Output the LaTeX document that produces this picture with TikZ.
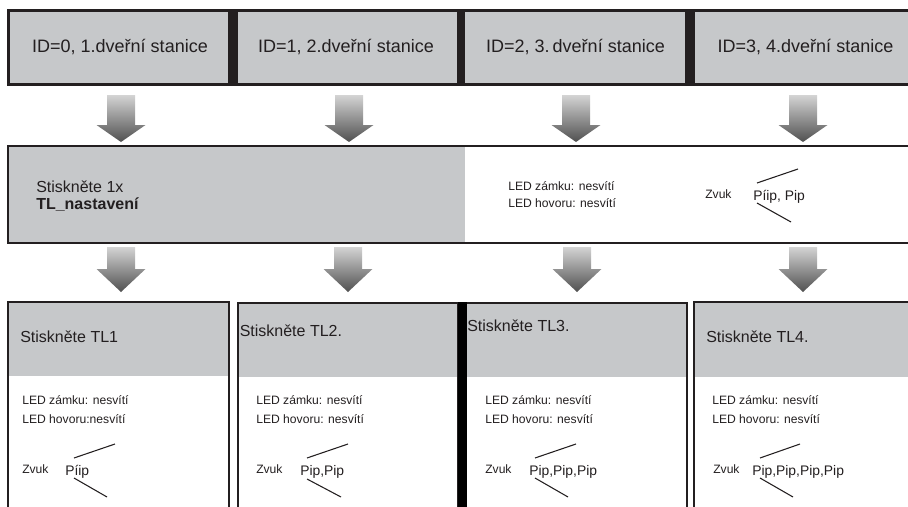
\documentclass[tikz,border=0pt]{standalone}
\usepackage{fontspec}
\setmainfont{Liberation Sans}
\definecolor{cellgray}{HTML}{C6C8CA}
\definecolor{ink}{HTML}{231F20}
\definecolor{arrtop}{HTML}{D4D4D4}
\definecolor{arrbot}{HTML}{505050}
\begin{document}
\begin{tikzpicture}[x=0.75pt,y=-0.75pt,
  rectnode/.style={anchor=north west, inner sep=0pt, outer sep=0pt},
  celltxt/.style={text=ink, font=\fontsize{13.5pt}{16pt}\selectfont},
  bigtxt/.style={anchor=base west, inner sep=0pt, text=ink, font=\fontsize{12pt}{14pt}\selectfont},
  smalltxt/.style={anchor=base west, inner sep=0pt, text=ink, font=\fontsize{9.1pt}{11pt}\selectfont},
  piptxt/.style={anchor=base west, inner sep=0pt, text=ink, font=\fontsize{10.4pt}{12pt}\selectfont},
  soundline/.style={draw=ink, line width=0.8pt},
  pics/downarrow/.style 2 args={code={
    \shade[top color=arrtop, bottom color=arrbot]
      (-14,0) -- (14,0) -- (14,#1) -- (24.5,#1) -- (0,#2) -- (-24.5,#1) -- (-14,#1) -- cycle;}}
]
\useasboundingbox (0,0) rectangle (908,507);
\clip (0,0) rectangle (908,507);

% ---------- top row ----------
\node[rectnode, fill=ink, minimum width=905*0.75pt, minimum height=77*0.75pt] (toprow) at (7,9) {};
\node[rectnode, fill=cellgray, minimum width=218.5*0.75pt, minimum height=71.5*0.75pt] (c1) at (9.5,11.5) {};
\node[rectnode, fill=cellgray, minimum width=219*0.75pt, minimum height=71.5*0.75pt] (c2) at (238,11.5) {};
\node[rectnode, fill=cellgray, minimum width=220*0.75pt, minimum height=71.5*0.75pt] (c3) at (465,11.5) {};
\node[rectnode, fill=cellgray, minimum width=217*0.75pt, minimum height=71.5*0.75pt] (c4) at (695,11.5) {};
\node[celltxt] (t1) at (120,47.5) {ID=0, 1.dveřní stanice};
\node[celltxt] (t2) at (346,47.5) {ID=1, 2.dveřní stanice};
\node[celltxt] (t3) at (575.5,47.5) {ID=2, 3.\,dveřní stanice};
\node[celltxt] (t4) at (805.5,47.5) {ID=3, 4.dveřní stanice};

% ---------- arrows row 1 ----------
\pic (a1) at (121,95) {downarrow={30}{47}};
\pic (a2) at (349,95) {downarrow={30}{47}};
\pic (a3) at (576,95) {downarrow={30}{47}};
\pic (a4) at (803,95) {downarrow={30}{47}};

% ---------- middle row ----------
\node[rectnode, fill=white, minimum width=904*0.75pt, minimum height=97*0.75pt] (mid) at (8,146) {};
\node[rectnode, fill=cellgray, minimum width=457*0.75pt, minimum height=97*0.75pt] (midgray) at (8,146) {};
\draw[ink, line width=1.5pt] (8,146) rectangle (915,243);
\node[bigtxt] (m1) at (36,192) {Stiskněte 1x};
\node[bigtxt, font=\fontsize{12pt}{14pt}\selectfont\bfseries] (m2) at (36,209) {TL\_nastavení};
\node[smalltxt] (m3) at (508,190) {LED zámku: nesvítí};
\node[smalltxt] (m4) at (508,207) {LED hovoru: nesvítí};
\node[smalltxt] (m5) at (705,198) {Zvuk};
\node[piptxt] (m6) at (753,200) {Píip, Pip};
\draw[soundline] (757,183) -- (798,169);
\draw[soundline] (757,203) -- (791,222);

% ---------- arrows row 2 ----------
\pic (b1) at (121,247) {downarrow={22}{45}};
\pic (b2) at (348,247) {downarrow={22}{45}};
\pic (b3) at (577,247) {downarrow={22}{45}};
\pic (b4) at (803,247) {downarrow={22}{45}};

% ---------- bottom boxes ----------
\node[rectnode, fill=cellgray, minimum width=221*0.75pt, minimum height=74*0.75pt] (h1) at (8,302) {};
\node[rectnode, fill=cellgray, minimum width=220*0.75pt, minimum height=74*0.75pt] (h2) at (238,303) {};
\node[rectnode, fill=cellgray, minimum width=225*0.75pt, minimum height=74*0.75pt] (h3) at (462,303) {};
\node[rectnode, fill=cellgray, minimum width=221*0.75pt, minimum height=75*0.75pt] (h4) at (694,302) {};
\draw[ink, line width=1.1pt] (8,302) rectangle (229,520);
\draw[ink, line width=1.9pt] (238,303) rectangle (458,520);
\draw[ink, line width=1.7pt] (462,303) rectangle (687,520);
\fill[black] (458,302) rectangle (467,520);
\draw[ink, line width=1.1pt] (694,302) rectangle (915,520);

\node[bigtxt] (s1) at (20,342) {Stiskněte TL1};
\node[bigtxt] (s2) at (239.5,336) {Stiskněte TL2.};
\node[bigtxt] (s3) at (467,331) {Stiskněte TL3.};
\node[bigtxt] (s4) at (706,342) {Stiskněte TL4.};

\node[smalltxt] (l1a) at (22,404) {LED zámku: nesvítí};
\node[smalltxt] (l1b) at (22,423) {LED hovoru:nesvítí};
\node[smalltxt] (l2a) at (256,404) {LED zámku: nesvítí};
\node[smalltxt] (l2b) at (256,423) {LED hovoru: nesvítí};
\node[smalltxt] (l3a) at (485,404) {LED zámku: nesvítí};
\node[smalltxt] (l3b) at (485,423) {LED hovoru: nesvítí};
\node[smalltxt] (l4a) at (712,404) {LED zámku: nesvítí};
\node[smalltxt] (l4b) at (712,423) {LED hovoru: nesvítí};

\node[smalltxt] (z1) at (22,473) {Zvuk};
\node[smalltxt] (z2) at (256,473) {Zvuk};
\node[smalltxt] (z3) at (485,473) {Zvuk};
\node[smalltxt] (z4) at (713,473) {Zvuk};
\node[piptxt] (p1) at (65,475) {Píip};
\node[piptxt] (p2) at (300,475) {Pip,Pip};
\node[piptxt] (p3) at (529,475) {Pip,Pip,Pip};
\node[piptxt] (p4) at (752,475) {Pip,Pip,Pip,Pip};

\draw[soundline] (74,458) -- (115,444);
\draw[soundline] (74,478) -- (107,497);
\draw[soundline] (307,458) -- (348,444);
\draw[soundline] (307,479) -- (341,497);
\draw[soundline] (535,458) -- (576,444);
\draw[soundline] (535,478) -- (568,497);
\draw[soundline] (760,458) -- (800,444);
\draw[soundline] (760,478) -- (793,497);
\end{tikzpicture}
\end{document}
